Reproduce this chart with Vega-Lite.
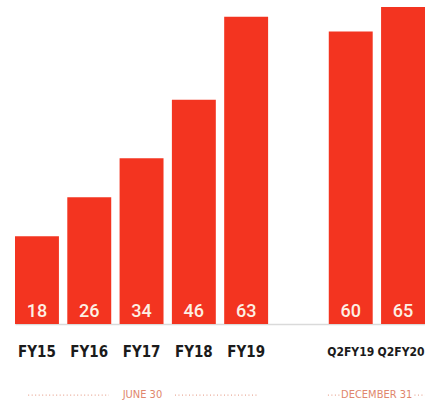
{
  "$schema": "https://vega.github.io/schema/vega-lite/v6.json",
  "width": 410,
  "height": 324,
  "autosize": {"type": "none"},
  "padding": {"left": 15, "top": 0, "right": 0, "bottom": 80},
  "background": "white",
  "config": {"view": {"stroke": null}},
  "datasets": {
    "bars": [
      {"period": "FY15", "value": 18},
      {"period": "FY16", "value": 26},
      {"period": "FY17", "value": 34},
      {"period": "FY18", "value": 46},
      {"period": "FY19", "value": 63},
      {"period": "Q2FY19", "value": 60},
      {"period": "Q2FY20", "value": 65}
    ]
  },
  "encoding": {
    "x": {
      "field": "period",
      "type": "nominal",
      "scale": {"type": "band", "domain": ["FY15", "FY16", "FY17", "FY18", "FY19", " ", "Q2FY19", "Q2FY20"], "paddingInner": 0.16, "paddingOuter": 0},
      "axis": {"title": null, "labelAngle": 0, "ticks": false, "domainColor": "#dadada", "domainWidth": 1.5, "labelFont": "DejaVu Sans Condensed", "labelFontWeight": "bold", "labelFontSize": {"condition": {"test": "indexof(datum.value, 'Q') === 0", "value": 12}, "value": 15}, "labelOffset": {"condition": {"test": "datum.value === 'Q2FY20'", "value": -2}, "value": 0}, "labelColor": "#1b1b1b", "labelPadding": 27, "labelBaseline": "middle"}
    }
  },
  "layer": [
    {
      "data": {"name": "bars"},
      "mark": {"type": "bar", "color": "#f33420"},
      "encoding": {
        "y": {"field": "value", "type": "quantitative", "scale": {"domain": [0, 66.46], "nice": false, "zero": true}, "axis": null}
      }
    },
    {
      "data": {"name": "bars"},
      "mark": {"type": "text", "color": "#fdf0e4", "font": "Roboto", "fontSize": 18, "fontWeight": 500, "baseline": "middle"},
      "encoding": {
        "y": {"datum": 2.5, "type": "quantitative"},
        "text": {"field": "value", "type": "quantitative"}
      }
    },
    {
      "data": {"values": [{"period": "FY17", "label": "JUNE 30"}]},
      "mark": {"type": "text", "color": "#e0866c", "font": "DejaVu Sans Condensed", "fontSize": 11, "baseline": "middle"},
      "encoding": {
        "x": {"field": "period", "type": "nominal", "bandPosition": 0.52},
        "y": {"datum": -14.6, "type": "quantitative"},
        "text": {"field": "label"}
      }
    },
    {
      "data": {"values": [{"period": "Q2FY19", "label": "DECEMBER 31"}]},
      "mark": {"type": "text", "color": "#e0866c", "font": "DejaVu Sans Condensed", "fontSize": 11, "baseline": "middle"},
      "encoding": {
        "x": {"field": "period", "type": "nominal", "bandPosition": 1.09},
        "y": {"datum": -14.6, "type": "quantitative"},
        "text": {"field": "label"}
      }
    },
    {
      "data": {"values": [{"period": "FY15", "to": "FY16"}]},
      "mark": {"type": "rule", "color": "#e9a896", "strokeDash": [1, 2.5], "strokeWidth": 1.2},
      "encoding": {
        "x": {"field": "period", "type": "nominal", "bandPosition": 0.3},
        "x2": {"field": "to", "bandPosition": 0.95},
        "y": {"datum": -14.6, "type": "quantitative"}
      }
    },
    {
      "data": {"values": [{"period": "FY18", "to": "FY19"}]},
      "mark": {"type": "rule", "color": "#e9a896", "strokeDash": [1, 2.5], "strokeWidth": 1.2},
      "encoding": {
        "x": {"field": "period", "type": "nominal", "bandPosition": 0.07},
        "x2": {"field": "to", "bandPosition": 0.74},
        "y": {"datum": -14.6, "type": "quantitative"}
      }
    },
    {
      "data": {"values": [{"period": "Q2FY19", "to": "Q2FY19"}]},
      "mark": {"type": "rule", "color": "#e9a896", "strokeDash": [1, 2.5], "strokeWidth": 1.2},
      "encoding": {
        "x": {"field": "period", "type": "nominal", "bandPosition": -0.02},
        "x2": {"field": "to", "bandPosition": 0.26},
        "y": {"datum": -14.6, "type": "quantitative"}
      }
    },
    {
      "data": {"values": [{"period": "Q2FY20", "to": "Q2FY20"}]},
      "mark": {"type": "rule", "color": "#e9a896", "strokeDash": [1, 2.5], "strokeWidth": 1.2},
      "encoding": {
        "x": {"field": "period", "type": "nominal", "bandPosition": 0.76},
        "x2": {"field": "to", "bandPosition": 1.0},
        "y": {"datum": -14.6, "type": "quantitative"}
      }
    }
  ]
}
